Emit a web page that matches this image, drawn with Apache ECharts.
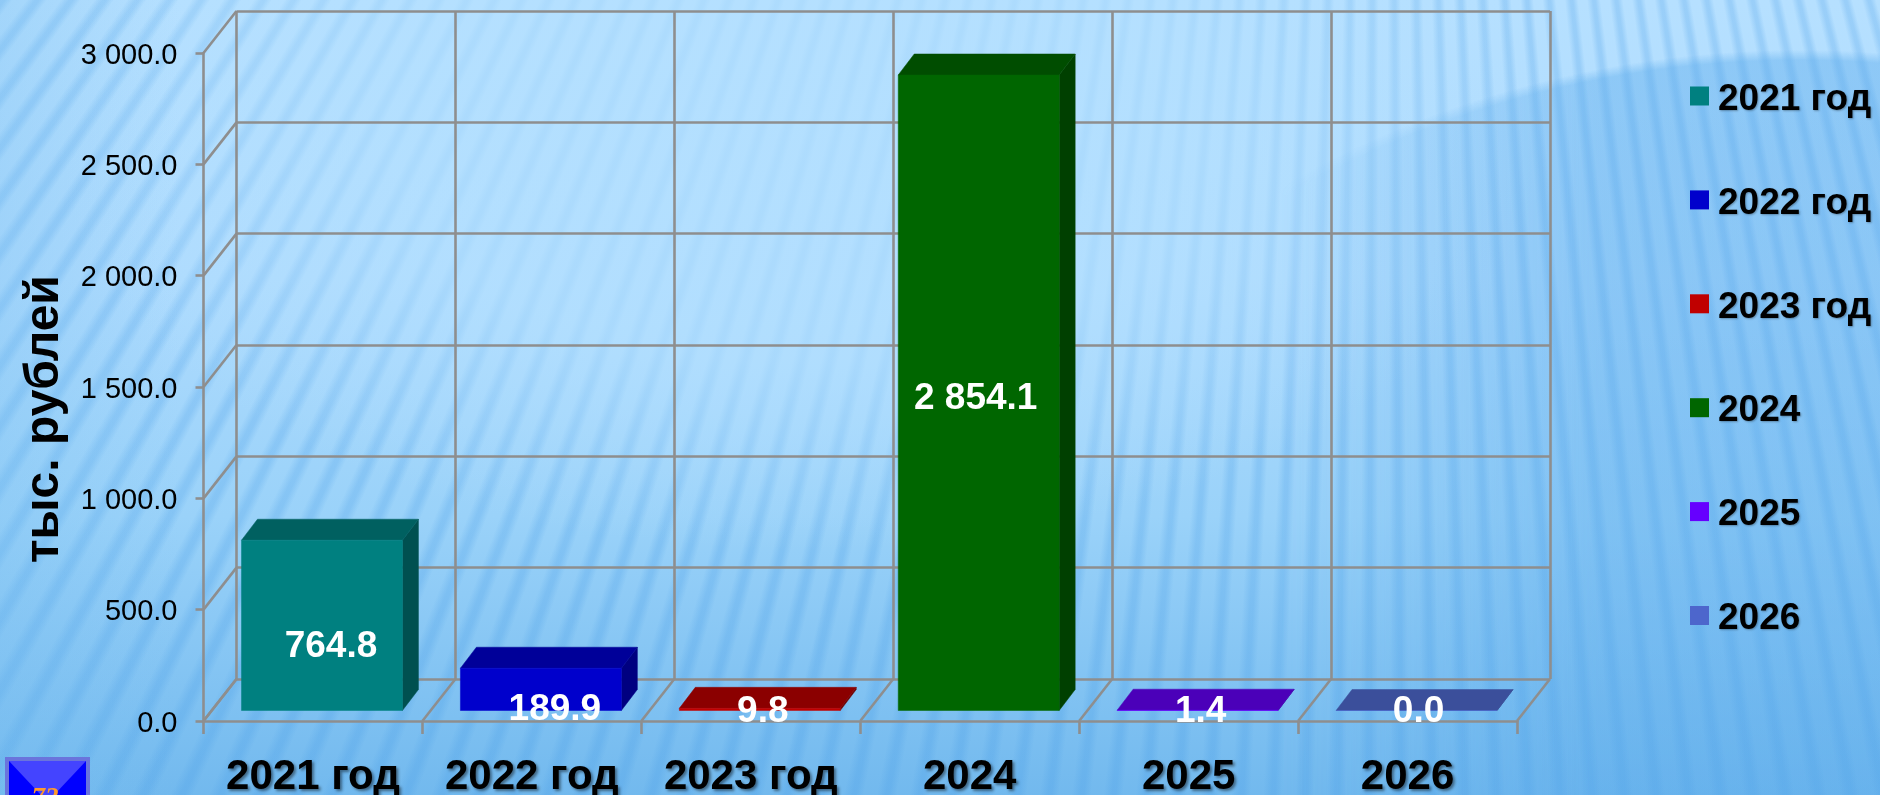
<!DOCTYPE html>
<html>
<head>
<meta charset="utf-8">
<script src="https://cdn.jsdelivr.net/npm/echarts@6/dist/echarts.min.js"></script>
<style>
html,body{margin:0;padding:0;width:1880px;height:795px;overflow:hidden;background:#8ecbf6;}
#bg,#arc,#stripes,#glow,#wash,#main{position:absolute;left:0;top:0;width:1880px;height:795px;}
#bg{background:linear-gradient(180deg,#b6e0ff 0%,#aedbfe 35%,#9ad2f9 65%,#72b9ee 100%);}
#glow{background:linear-gradient(90deg,rgba(120,190,240,.3) 0,rgba(120,190,240,0) 180px);}
#wash{background:radial-gradient(ellipse 750px 420px at 800px 130px,rgba(180,224,255,.8) 0,rgba(180,224,255,.7) 55%,rgba(180,224,255,0) 100%);}
#arc{background:radial-gradient(ellipse 955px 850px at 1800px 900px,rgba(90,170,235,.42) 0,rgba(90,170,235,.42) 98.8%,rgba(90,170,235,0) 100%);
 -webkit-mask-image:linear-gradient(90deg,transparent 1280px,#000 1600px);mask-image:linear-gradient(90deg,transparent 1280px,#000 1600px);}
#stripes{background:repeating-conic-gradient(from 148deg at 1380px -1805px,rgba(70,155,230,.25) 0deg,rgba(70,155,230,.25) .08deg,rgba(70,155,230,0) .26deg,rgba(70,155,230,0) .54deg,rgba(70,155,230,.25) .7deg);}
#main{background:transparent;}
</style>
</head>
<body>
<div id="bg"></div><div id="stripes"></div><div id="wash"></div><div id="glow"></div><div id="arc"></div>
<div id="main"></div>
<script>
const categories = ['2021 год','2022 год','2023 год','2024','2025','2026'];
const values = [764.8,189.9,9.8,2854.1,1.4,0.0];
const labels = ['764.8','189.9','9.8','2 854.1','1.4','0.0'];
const yTicks = [0,500,1000,1500,2000,2500,3000];
const frontColors = ['#008080','#0000cc','#c00000','#006600','#6600ff','#4d66cc'];
const topColors = ['#006060','#000099','#8b0000','#004d00','#4b00b9','#3b4f9b'];
const sideColors = ['#005050','#000080','#700000','#004000','#3d0099','#304080'];
const labelShiftX = [18,23,12,6,12,11];
const labelLiftY = [74,11,9,322,9,9];

const FONT = '"Liberation Sans", Arial, sans-serif';
const GRID = {left:203.5, top:53, width:1313.5, height:668, outerBoundsMode:'none'};
const WALL = {dx:33, dy:42};
const BAR = {dx:16, dy:21, ox:9, oy:10.5, ratio:161/219};
const LINE = '#8e8e8e';
const LW = 2.6;

function renderBar(i){
  return function(params, api){
    const base = api.coord([api.value(0),0]);
    const top = api.coord([api.value(0),api.value(1)]);
    const w = api.size([1,0])[0]*BAR.ratio;
    const l = base[0]+BAR.ox-w/2, r = l+w, b = base[1]-BAR.oy, t = top[1]-BAR.oy;
    const poly=(pts,fill)=>({type:'polygon',shape:{points:pts},style:{fill:fill,stroke:fill,lineWidth:.5}});
    return {type:'group',children:[
      poly([[r,b],[r+BAR.dx,b-BAR.dy],[r+BAR.dx,t-BAR.dy],[r,t]],sideColors[i]),
      poly([[l,t],[r,t],[r+BAR.dx,t-BAR.dy],[l+BAR.dx,t-BAR.dy]],topColors[i]),
      poly([[l,b],[r,b],[r,t],[l,t]],frontColors[i]),
      {type:'text',z2:10,style:{text:labels[i],x:base[0]+labelShiftX[i],y:base[1]-labelLiftY[i],
        align:'center',verticalAlign:'middle',fill:'#fff',font:'bold 37px '+FONT}}
    ]};
  };
}
const barSeries = categories.map((name,i)=>({
  name:name,type:'custom',xAxisIndex:0,yAxisIndex:0,clip:false,z:5,
  data:[[i,values[i]]],encode:{x:0,y:1},itemStyle:{color:frontColors[i]},
  renderItem:renderBar(i)
}));
const wallDiagonals = {
  type:'custom',xAxisIndex:0,yAxisIndex:0,clip:false,z:3,silent:true,
  data:yTicks.map(t=>[0,t]),encode:{x:0,y:1},
  renderItem:(params,api)=>{
    const cs=params.coordSys, y=api.coord([0,api.value(1)])[1];
    return {type:'line',shape:{x1:cs.x,y1:y,x2:cs.x+WALL.dx,y2:y-WALL.dy},style:{stroke:LINE,lineWidth:LW}};
  }
};
const floorDiagonals = {
  type:'custom',xAxisIndex:0,yAxisIndex:0,clip:false,z:3,silent:true,
  data:[0,1,2,3,4,5,6].map(k=>[0,0,k]),encode:{x:0,y:1},
  renderItem:(params,api)=>{
    const cs=params.coordSys, y=api.coord([0,0])[1], x=cs.x+cs.width*api.value(2)/categories.length;
    return {type:'line',shape:{x1:x,y1:y,x2:x+WALL.dx,y2:y-WALL.dy},style:{stroke:LINE,lineWidth:LW}};
  }
};
const fmt = v => v.toFixed(1).replace(/\B(?=(\d{3})(?!\d))/g,'\u00a0');
const axisLine = {show:true,lineStyle:{color:LINE,width:LW}};

const chart = echarts.init(document.getElementById('main'),null,{renderer:'canvas',width:1880,height:795});
chart.setOption({
  backgroundColor:'transparent',
  animation:false,
  grid:[
    {left:GRID.left,top:GRID.top,width:GRID.width,height:GRID.height,outerBoundsMode:GRID.outerBoundsMode},
    {left:GRID.left+WALL.dx,top:GRID.top-WALL.dy,width:GRID.width,height:GRID.height,outerBoundsMode:GRID.outerBoundsMode}
  ],
  xAxis:[
    {type:'category',gridIndex:0,data:categories,boundaryGap:true,z:4,
     axisLine:axisLine,axisTick:{show:true,length:13,alignWithLabel:false,lineStyle:{color:LINE,width:LW}},
     axisLabel:{interval:0,margin:35,color:'#000',fontFamily:FONT,fontWeight:'bold',fontSize:42,
       textShadowColor:'rgba(0,0,0,.45)',textShadowBlur:3,textShadowOffsetX:2,textShadowOffsetY:2},
     splitLine:{show:false}},
    {type:'category',gridIndex:1,data:categories,boundaryGap:true,z:1,
     axisLine:{show:false},axisTick:{show:false},axisLabel:{show:false},
     splitLine:{show:true,interval:0,showMinLine:true,showMaxLine:true,lineStyle:{color:LINE,width:LW}}}
  ],
  yAxis:[
    {type:'value',gridIndex:0,min:0,max:3000,interval:500,z:4,
     axisLine:axisLine,axisTick:{show:true,length:8,lineStyle:{color:LINE,width:LW}},
     axisLabel:{margin:26,color:'#000',fontFamily:FONT,fontSize:29,verticalAlign:'top',lineHeight:5,formatter:fmt},
     splitLine:{show:false}},
    {type:'value',gridIndex:1,min:0,max:3000,interval:500,z:1,
     axisLine:{show:false},axisTick:{show:false},axisLabel:{show:false},
     splitLine:{show:true,showMinLine:true,showMaxLine:true,lineStyle:{color:LINE,width:LW}}}
  ],
  legend:{
    orient:'vertical',left:1690,top:74,padding:0,itemGap:59.9,itemWidth:19,itemHeight:19,
    icon:'rect',selectedMode:false,data:categories,formatter:'{a|{name}}',
    textStyle:{color:'#000',padding:[0,0,0,4],
      rich:{a:{color:'#000',fontFamily:FONT,fontWeight:'bold',fontSize:37,lineHeight:36,padding:[7,0,0,0],
        textShadowColor:'rgba(0,0,0,.3)',textShadowBlur:2,textShadowOffsetX:1,textShadowOffsetY:1}}}
  },
  graphic:[
    {type:'text',rotation:Math.PI/2,silent:true,x:45,y:419,
     style:{text:'тыс. рублей',fill:'#000',font:'bold 48px '+FONT,align:'center',verticalAlign:'middle'}},
    {type:'rect',shape:{x:5,y:757,width:85,height:40},style:{fill:'#6a74dc'},silent:true},
    {type:'rect',shape:{x:9,y:761,width:77,height:36},style:{fill:'#0000ff'},silent:true},
    {type:'polygon',shape:{points:[[9,761],[86,761],[47.5,802]]},style:{fill:'#4444ff'},silent:true},
    {type:'text',silent:true,x:45,y:786,style:{text:'72',fill:'#ff9a2e',font:'italic bold 27px "Liberation Serif", serif',align:'center',verticalAlign:'top'}}
  ],
  series:[wallDiagonals,floorDiagonals].concat(barSeries)
});
</script>
</body>
</html>
